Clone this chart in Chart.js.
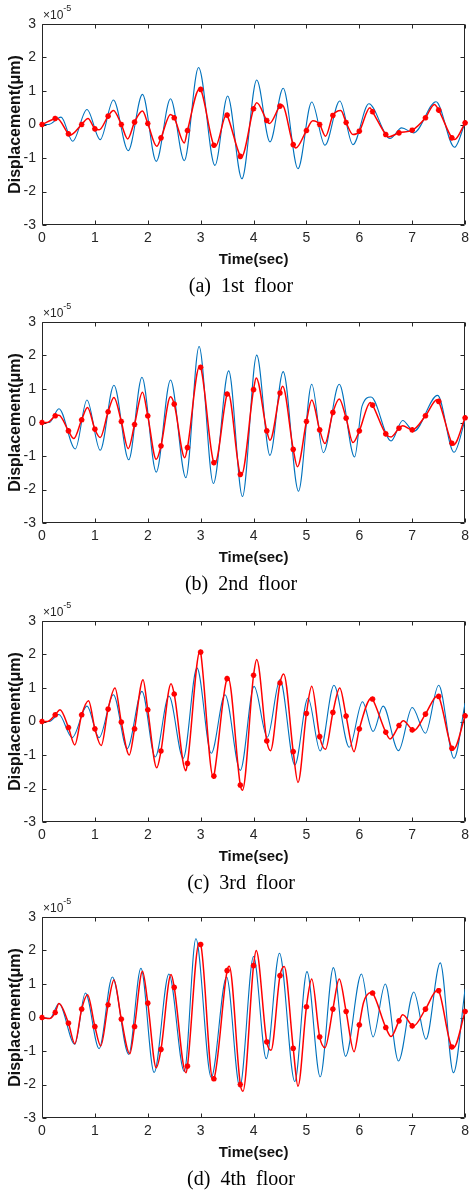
<!DOCTYPE html>
<html><head><meta charset="utf-8">
<script src="https://cdn.jsdelivr.net/npm/chart.js@4.4.1/dist/chart.umd.min.js"></script>
<style>
html,body{margin:0;padding:0;background:#fff;}
#wrap{position:relative;width:474px;height:1192px;overflow:hidden;background:#fff;}
.panel{position:absolute;left:0;width:474px;height:275px;}
.exp{position:absolute;left:43px;font:12px 'Liberation Sans',Arial,sans-serif;color:#262626;line-height:1;white-space:nowrap;}
.exp sup{font-size:9px;position:relative;top:-5px;vertical-align:top;}
.cap{position:absolute;left:0;width:482px;text-align:center;font:20px 'Liberation Serif','Times New Roman',serif;color:#000;white-space:pre;line-height:1;}
</style></head>
<body>
<div id="wrap"></div>
<script>
// ---- tick labels ----
const xTicks = [0,1,2,3,4,5,6,7,8];
const yTicks = [-3,-2,-1,0,1,2,3];
// ---- marker times (red, every 0.25 s) ----
const markT = [0,0.25,0.5,0.75,1,1.25,1.5,1.75,2,2.25,2.5,2.75,3,3.25,3.5,3.75,4,4.25,4.5,4.75,5,5.25,5.5,5.75,6,6.25,6.5,6.75,7,7.25,7.5,7.75,8];

// ---- (a) 1st floor ----
const blueA_t = [0,0.12,0.36,0.58,0.85,1.1,1.35,1.63,1.9,2.16,2.43,2.69,2.96,3.27,3.51,3.78,4.06,4.31,4.56,4.84,5.1,5.35,5.63,5.88,6.18,6.58,6.8,7.03,7.45,7.8,8];
const blueA_v = [0,0,0.22,-0.5,0.45,-0.45,0.73,-0.78,0.9,-1.1,0.77,-1.08,1.7,-1.22,0.85,-1.62,1.33,-0.52,1.08,-1.32,0.67,-0.62,0.7,-0.6,0.62,-0.42,-0.1,-0.25,0.68,-0.68,0.05];
const redA_t = [0.28,0.53,0.87,1.08,1.35,1.62,1.9,2.17,2.43,2.69,2.98,3.28,3.49,3.77,4.06,4.3,4.54,4.8,5.12,5.36,5.65,5.88,6.2,6.55,7.42,7.8];
const redA_v = [0.19,-0.32,0.18,-0.16,0.42,-0.43,0.4,-0.65,0.3,-0.55,1.07,-0.65,0.3,-0.97,0.65,0.03,0.58,-0.7,0.11,-0.35,0.42,-0.3,0.5,-0.37,0.6,-0.45];
const markA_v = [0,0.18,-0.28,0,-0.13,0.25,0,0.07,0.03,-0.4,0.2,-0.18,1.05,-0.62,0.28,-0.95,0.47,0.12,0.55,-0.6,-0.18,0,0.27,0.06,-0.2,0.38,-0.3,-0.25,-0.17,0.2,0.43,-0.4,0.05];

// ---- (b) 2nd floor ----
const blueB_t = [0,0.14,0.32,0.63,0.85,1.1,1.36,1.64,1.89,2.16,2.43,2.72,2.97,3.24,3.53,3.79,4.06,4.31,4.56,4.85,5.1,5.32,5.62,5.91,6.05,6.22,6.6,6.82,7.03,7.48,7.79,8];
const blueB_v = [0,0,0.41,-0.79,0.67,-0.83,1.11,-1.11,1.35,-1.48,1.27,-1.65,2.27,-1.82,1.54,-2.21,2.01,-0.98,1.52,-2.05,1.14,-0.9,1.14,-1.03,0.48,0.76,-0.55,0.06,-0.26,0.81,-0.89,0.08];
const redB_t = [0.1,0.32,0.6,0.86,1.1,1.36,1.63,1.9,2.16,2.43,2.7,2.98,3.27,3.52,3.77,4.05,4.31,4.55,4.83,5.1,5.35,5.62,5.88,6.21,6.6,6.82,7.47,7.78];
const redB_v = [0,0.22,-0.48,0.45,-0.45,0.75,-0.78,0.9,-1.1,0.77,-1.05,1.68,-1.22,0.88,-1.57,1.33,-0.53,1.08,-1.32,0.67,-0.63,0.7,-0.6,0.6,-0.43,-0.1,0.68,-0.67];
const markB_v = [0,0.2,-0.25,0.08,-0.2,0.32,0.03,-0.06,0.2,-0.7,0.55,-0.75,1.65,-1.2,0.85,-1.55,0.98,-0.25,0.88,-0.8,0.03,-0.22,0.3,0.13,-0.25,0.52,-0.34,-0.17,-0.22,0.2,0.63,-0.62,0.14];

// ---- (c) 3rd floor ----
const blueC_t = [0,0.14,0.32,0.57,0.85,1.08,1.35,1.61,1.89,2.14,2.4,2.67,2.93,3.2,3.46,3.75,4.01,4.26,4.5,4.78,5.03,5.26,5.52,5.81,6.06,6.26,6.45,6.74,7,7.25,7.5,7.79,8];
const blueC_v = [0,0,0.21,-0.48,0.46,-0.48,0.8,-0.81,0.9,-1.06,0.76,-1.1,1.6,-0.95,0.8,-1.46,1.05,-0.47,1.25,-1.3,0.7,-0.88,1.08,-0.77,0.59,-0.3,0.46,-0.87,0.42,-0.35,1.08,-1.1,0.55];
const redC_t = [0.1,0.34,0.62,0.88,1.12,1.38,1.65,1.91,2.17,2.44,2.72,2.99,3.24,3.52,3.79,4.06,4.32,4.57,4.84,5.1,5.36,5.63,5.9,6.23,6.58,6.83,7.03,7.48,7.78];
const redC_v = [0,0.35,-0.7,0.62,-0.72,1.0,-1.0,1.25,-1.38,1.13,-1.47,2.12,-1.67,1.3,-2.05,1.85,-0.87,1.42,-1.82,1.05,-0.83,1.0,-0.9,0.7,-0.52,0.02,-0.27,0.77,-0.83];
const markC_v = [0,0.2,-0.18,0.2,-0.22,0.37,-0.02,-0.22,0.35,-0.88,0.82,-1.25,2.07,-1.63,1.28,-1.9,1.38,-0.58,1.15,-0.9,0.24,-0.45,0.27,0.16,-0.22,0.67,-0.32,-0.12,-0.25,0.22,0.75,-0.8,0.17];

// ---- (d) 4th floor ----
const blueD_t = [0,0.15,0.32,0.62,0.82,1.08,1.33,1.64,1.87,2.12,2.4,2.69,2.91,3.2,3.49,3.74,4,4.24,4.49,4.78,5.01,5.26,5.51,5.74,6.04,6.26,6.49,6.74,7.03,7.26,7.53,7.78,8];
const blueD_v = [0,-0.03,0.42,-0.8,0.73,-0.93,1.21,-1.1,1.47,-1.64,1.3,-1.61,2.35,-1.79,1.21,-2.07,1.82,-1.23,1.92,-1.91,1.37,-1.77,1.49,-1.16,1.3,-0.58,1.0,-1.3,0.76,-0.65,1.63,-1.65,0.85];
const redD_t = [0.15,0.32,0.62,0.86,1.11,1.36,1.66,1.9,2.16,2.44,2.72,2.97,3.23,3.54,3.8,4.05,4.33,4.58,4.84,5.1,5.35,5.62,5.9,6.08,6.22,6.6,6.82,7.02,7.48,7.78];
const redD_v = [-0.03,0.42,-0.78,0.68,-0.85,1.12,-1.08,1.38,-1.5,1.28,-1.65,2.22,-1.85,1.53,-2.2,2.0,-0.98,1.52,-2.05,1.15,-0.9,1.15,-1.02,0.45,0.75,-0.57,0.08,-0.26,0.82,-0.9];
const markD_v = [0,0.15,-0.17,0.25,-0.27,0.38,-0.05,-0.27,0.43,-0.95,0.9,-1.45,2.18,-1.83,1.4,-2.0,1.55,-0.73,1.25,-0.92,0.32,-0.58,0.25,0.18,-0.22,0.73,-0.3,-0.1,-0.25,0.25,0.8,-0.88,0.18];

const captions = ['(a)  1st  floor','(b)  2nd  floor','(c)  3rd  floor','(d)  4th  floor'];
const panelTops = [0,298,597,893];

const panels = [
  {bt:blueA_t,bv:blueA_v,rt:redA_t,rv:redA_v,mv:markA_v},
  {bt:blueB_t,bv:blueB_v,rt:redB_t,rv:redB_v,mv:markB_v},
  {bt:blueC_t,bv:blueC_v,rt:redC_t,rv:redC_v,mv:markC_v},
  {bt:blueD_t,bv:blueD_v,rt:redD_t,rv:redD_v,mv:markD_v}
];

function pts(ts, vs){ return ts.map((t,i)=>({x:t,y:vs[i]})); }
function merge(a, b){
  const all = a.concat(b).sort((p,q)=>p.x-q.x);
  const out = [];
  all.forEach(p=>{ if(!out.length || Math.abs(out[out.length-1].x-p.x)>1e-9) out.push(p); });
  return out;
}

const SANS = "'Liberation Sans', Arial, Helvetica, sans-serif";
const frame = {
  id:'frame',
  beforeDatasetsDraw(chart){
    const {ctx, chartArea:a, scales:{x,y}} = chart;
    ctx.save();
    ctx.strokeStyle='#262626'; ctx.lineWidth=1;
    const L=Math.round(a.left)+0.5, R=Math.round(a.right)-0.5, T=Math.round(a.top)+0.5, B=Math.round(a.bottom)-0.5;
    ctx.beginPath();
    ctx.rect(L,T,R-L,B-T);
    xTicks.forEach(v=>{const p=Math.round(x.getPixelForValue(v))+0.5; ctx.moveTo(p,B); ctx.lineTo(p,B-4); ctx.moveTo(p,T); ctx.lineTo(p,T+4);});
    yTicks.forEach(v=>{const p=Math.round(y.getPixelForValue(v))+0.5; ctx.moveTo(L,p); ctx.lineTo(L+4,p); ctx.moveTo(R,p); ctx.lineTo(R-4,p);});
    ctx.stroke();
    ctx.restore();
  }
};

const wrap = document.getElementById('wrap');
panels.forEach((p,i)=>{
  const top = panelTops[i];
  const div = document.createElement('div');
  div.className='panel'; div.style.top = top+'px';
  const cv = document.createElement('canvas');
  cv.width=474; cv.height=275;
  div.appendChild(cv); wrap.appendChild(div);

  const ex = document.createElement('div');
  ex.className='exp'; ex.style.top=(top+9)+'px';
  ex.innerHTML='×10<sup>-5</sup>';
  wrap.appendChild(ex);

  const cap = document.createElement('div');
  cap.className='cap'; cap.style.top=(top+275)+'px';
  cap.textContent = captions[i];
  wrap.appendChild(cap);

  new Chart(cv, {
    type:'line',
    data:{datasets:[
      {label:'markers', data:pts(markT,p.mv), showLine:false, pointStyle:'star', pointRadius:2.8, pointBorderWidth:1.7,
       borderColor:'#ff0000', backgroundColor:'#ff0000', pointBorderColor:'#ff0000', pointBackgroundColor:'#ff0000', order:0, clip:false},
      {label:'red', data:merge(pts(p.rt,p.rv), pts(markT,p.mv)), borderColor:'#ff0000', borderWidth:1.5, pointRadius:0,
       cubicInterpolationMode:'monotone', fill:false, order:1},
      {label:'blue', data:pts(p.bt,p.bv), borderColor:'#0072bd', borderWidth:1.1, pointRadius:0,
       cubicInterpolationMode:'monotone', fill:false, order:2}
    ]},
    options:{
      responsive:false, animation:false, devicePixelRatio:1, events:[],
      layout:{padding:{left:0,right:4,top:24,bottom:0}},
      plugins:{legend:{display:false}, tooltip:{enabled:false}},
      scales:{
        x:{type:'linear', min:0, max:8,
           afterFit(s){ s.height=50; },
           afterBuildTicks(s){ s.ticks = xTicks.map(v=>({value:v})); },
           grid:{display:false, drawTicks:false}, border:{display:false},
           ticks:{padding:5, color:'#262626', font:{family:SANS,size:14}, maxRotation:0, autoSkip:false},
           title:{display:true, text:'Time(sec)', color:'#111', font:{family:SANS,size:15,weight:'bold'}, padding:{top:0,bottom:6}}},
        y:{type:'linear', min:-3, max:3,
           afterFit(s){ s.width=42; },
           afterBuildTicks(s){ s.ticks = yTicks.map(v=>({value:v})); },
           grid:{display:false, drawTicks:false}, border:{display:false},
           ticks:{padding:6, color:'#262626', font:{family:SANS,size:14}},
           title:{display:true, text:'Displacement(μm)', color:'#111', font:{family:SANS,size:16,weight:'bold'}, padding:{top:6,bottom:0}}}
      }
    },
    plugins:[frame]
  });
});
</script>
</body></html>
